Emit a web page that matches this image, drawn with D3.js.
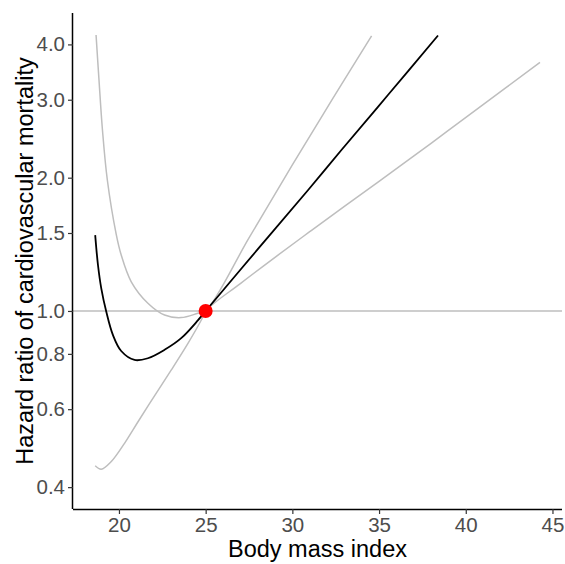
<!DOCTYPE html>
<html>
<head>
<meta charset="utf-8">
<script src="https://cdn.jsdelivr.net/npm/d3@7"></script>
<style>
  html, body { margin: 0; padding: 0; background: #fff; }
  svg { display: block; }
</style>
</head>
<body>
<svg id="chart" width="565" height="564"></svg>
<script>
// ---- data ----
const centralBMI = [18.63, 18.79, 18.98, 19.27, 19.65, 20.13, 20.9, 21.67, 22.63, 23.59, 24.55, 25, 28.13, 30.91, 32.83, 35.5, 38.4];
const centralHR  = [1.484, 1.27, 1.125, 0.996, 0.883, 0.812, 0.775, 0.782, 0.817, 0.868, 0.952, 1.0, 1.397, 1.876, 2.31, 3.07, 4.19];

const upperBMI = [18.68, 18.85, 19.05, 19.33, 19.84, 20.13, 20.71, 21.67, 22.63, 23.59, 24.55, 25, 27.5, 30, 32.3, 34.57];
const upperHR  = [4.2, 3.32, 2.56, 1.976, 1.492, 1.338, 1.164, 1.041, 0.979, 0.966, 0.988, 1.0, 1.462, 2.138, 3.004, 4.18];

const lowerBMI = [18.63, 18.98, 19.56, 20.33, 21.1, 22.06, 23.02, 23.98, 24.75, 25, 27, 29, 31, 33, 35, 38, 41, 44.28];
const lowerHR  = [0.447, 0.439, 0.457, 0.503, 0.562, 0.644, 0.736, 0.845, 0.954, 1.0, 1.153, 1.322, 1.51, 1.723, 1.962, 2.392, 2.924, 3.642];

const referencePoint = { bmi: 25, hr: 1.0 };
const referenceLineHR = 1.0;

const xTicks = [20, 25, 30, 35, 40, 45];
const yTicks = [0.4, 0.6, 0.8, 1.0, 1.5, 2.0, 3.0, 4.0];

const xTitle = "Body mass index";
const yTitle = "Hazard ratio of cardiovascular mortality";

(function () {
  // ---- layout ----
  const svg = d3.select("#chart");
  const pL = 73, pR = 562, pT = 13, pB = 509;

  const x = d3.scaleLinear().domain([17.35, 45.55]).range([pL, pR]);
  const y = d3.scaleLog().domain([0.357, 4.71]).range([pB, pT]);

  const zip = (xs, ys) => xs.map((v, i) => [v, ys[i]]);
  const line = d3.line().x(d => x(d[0])).y(d => y(d[1])).curve(d3.curveCatmullRom.alpha(0.5));

  const g = svg.append("g");

  // reference horizontal line
  g.append("line")
    .attr("x1", pL).attr("x2", pR)
    .attr("y1", y(referenceLineHR)).attr("y2", y(referenceLineHR))
    .attr("stroke", "#bebebe").attr("stroke-width", 1.4);

  // confidence bounds
  [zip(upperBMI, upperHR), zip(lowerBMI, lowerHR)].forEach(d => {
    g.append("path").datum(d)
      .attr("d", line)
      .attr("fill", "none")
      .attr("stroke", "#bebebe")
      .attr("stroke-width", 1.5);
  });

  // central estimate
  g.append("path").datum(zip(centralBMI, centralHR))
    .attr("d", line)
    .attr("fill", "none")
    .attr("stroke", "#000")
    .attr("stroke-width", 1.8);

  // reference point
  g.append("circle")
    .attr("cx", x(referencePoint.bmi)).attr("cy", y(referencePoint.hr))
    .attr("r", 7).attr("fill", "#ff0000");

  // axes
  const fontFam = "'Liberation Sans', Arial, Helvetica, sans-serif";

  const xAxis = svg.append("g")
    .attr("transform", `translate(0,${pB})`)
    .call(d3.axisBottom(x).tickValues(xTicks).tickSize(5).tickPadding(3).tickSizeOuter(0));
  const yAxis = svg.append("g")
    .attr("transform", `translate(${pL},0)`)
    .call(d3.axisLeft(y).tickValues(yTicks).tickFormat(d3.format(".1f")).tickSize(5).tickPadding(3).tickSizeOuter(0));

  [xAxis, yAxis].forEach(a => {
    a.select(".domain").attr("stroke", "#000").attr("stroke-width", 1.5);
    a.selectAll(".tick line").attr("stroke", "#333").attr("stroke-width", 1.2);
    a.selectAll(".tick text")
      .attr("fill", "#4d4d4d")
      .style("font-family", fontFam)
      .style("font-size", "20.5px");
  });
  xAxis.select(".domain").attr("d", `M${pL},0.5H${pR}`);
  yAxis.select(".domain").attr("d", `M-0.5,${pT}V${pB}`);

  // titles
  svg.append("text")
    .attr("x", (pL + pR) / 2).attr("y", 557)
    .attr("text-anchor", "middle")
    .style("font-family", fontFam).style("font-size", "23.5px")
    .attr("fill", "#000")
    .text(xTitle);

  svg.append("text")
    .attr("transform", `translate(33,${(pT + pB) / 2}) rotate(-90)`)
    .attr("text-anchor", "middle")
    .style("font-family", fontFam).style("font-size", "23.5px")
    .attr("fill", "#000")
    .text(yTitle);
})();
</script>
</body>
</html>
